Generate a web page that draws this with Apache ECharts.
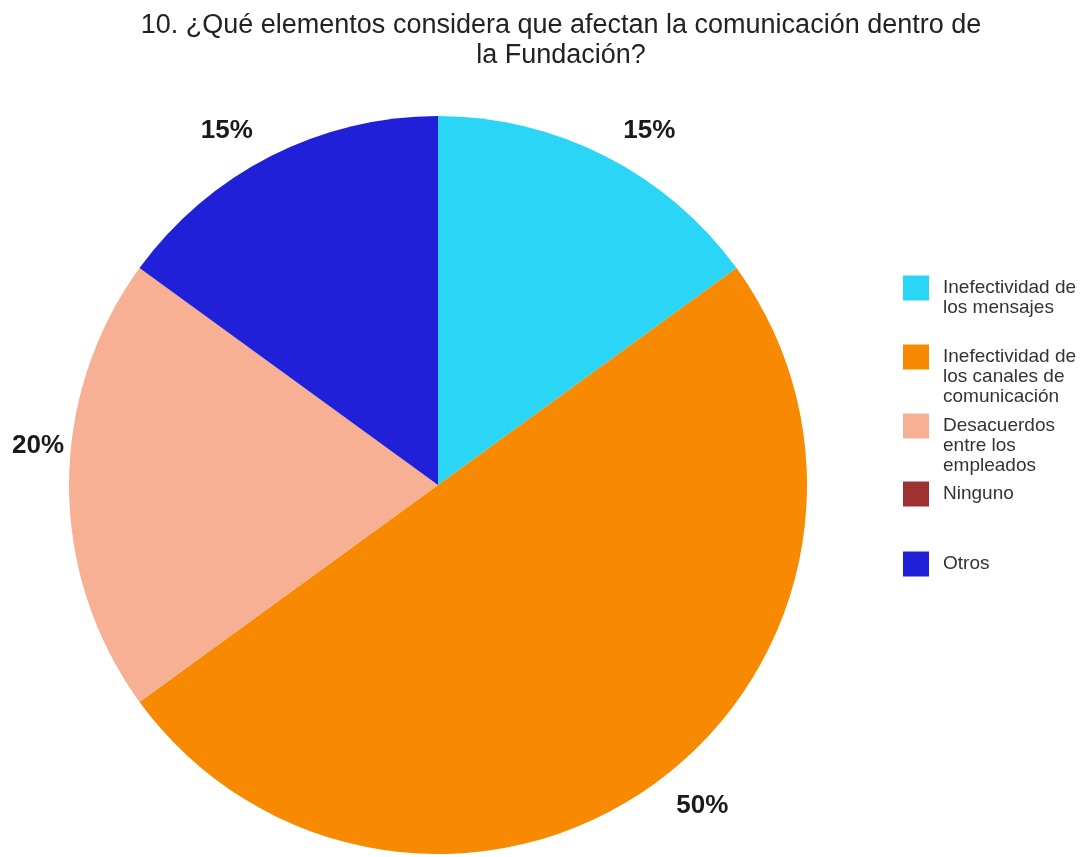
<!DOCTYPE html>
<html>
<head>
<meta charset="utf-8">
<title>Elementos que afectan la comunicación</title>
<script src="https://cdn.jsdelivr.net/npm/echarts@6/dist/echarts.min.js"></script>
<style>
  html, body { margin: 0; padding: 0; background: #ffffff; }
  #chart { width: 1083px; height: 857px; }
</style>
</head>
<body>
<div id="chart"></div>
<script>
// Survey question 10: categories and their share of answers (%)
const categories = [
  'Inefectividad de\nlos mensajes',
  'Inefectividad de\nlos canales de\ncomunicación',
  'Desacuerdos\nentre los\nempleados',
  'Ninguno',
  'Otros'
];
const values = [15, 50, 20, 0, 15];
const colors = ['#2bd5f6', '#f78a00', '#f8b094', '#9e3131', '#2020d9'];

const titleText = '10. ¿Qué elementos considera que afectan la comunicación dentro de\nla Fundación?';

const FONT = 'Liberation Sans, Arial, sans-serif';

// Legend: one block per category; blank lines above the name keep the
// icon level with the first line of a wrapped name
const LINE_H = 20;
const legendIconCenters = [288, 357, 426, 494, 564];

const legends = categories.map(function (name, i) {
  const n = name.split('\n').length;
  const boxH = Math.max(25, (2 * n - 1) * LINE_H);
  const lead = new Array(n).join('\n');
  return {
    orient: 'vertical',
    left: 903,
    top: legendIconCenters[i] - boxH / 2,
    padding: 0,
    itemWidth: 26,
    itemHeight: 25,
    itemGap: 0,
    icon: 'rect',
    selectedMode: false,
    data: [name],
    formatter: function (nm) { return lead + nm; },
    textStyle: {
      fontFamily: FONT,
      fontSize: 19,
      lineHeight: LINE_H,
      color: '#333333',
      padding: [0, 0, 0, 9]
    }
  };
});

const seriesData = categories.map(function (name, i) {
  const item = { name: name, value: values[i], itemStyle: { color: colors[i] } };
  if (values[i] === 0) {
    item.label = { show: false };
  }
  return item;
});
// the left-hand label sits close to the rim and a little above its slice's middle
seriesData[2].labelLine = { length: 0, length2: 0 };
seriesData[2].label = { formatter: '{c}%\n\n', lineHeight: 39 };

const chart = echarts.init(document.getElementById('chart'), null, { renderer: 'canvas' });
chart.setOption({
  backgroundColor: '#ffffff',
  animation: false,
  title: {
    text: titleText,
    left: 561,
    top: 11,
    padding: 0,
    textAlign: 'center',
    textStyle: {
      fontFamily: FONT,
      fontSize: 27,
      fontWeight: 'normal',
      lineHeight: 30,
      color: '#222222'
    }
  },
  legend: legends,
  series: [{
    type: 'pie',
    center: [438, 485],
    radius: [0, 369],
    startAngle: 90,
    clockwise: true,
    avoidLabelOverlap: false,
    label: {
      show: true,
      position: 'outside',
      formatter: '{c}%',
      fontFamily: FONT,
      fontSize: 26,
      fontWeight: 'bold',
      color: '#1a1a1a'
    },
    labelLine: { show: false, length: 28, length2: 0 },
    itemStyle: { borderWidth: 0 },
    emphasis: { disabled: true },
    data: seriesData
  }]
});
</script>
</body>
</html>
